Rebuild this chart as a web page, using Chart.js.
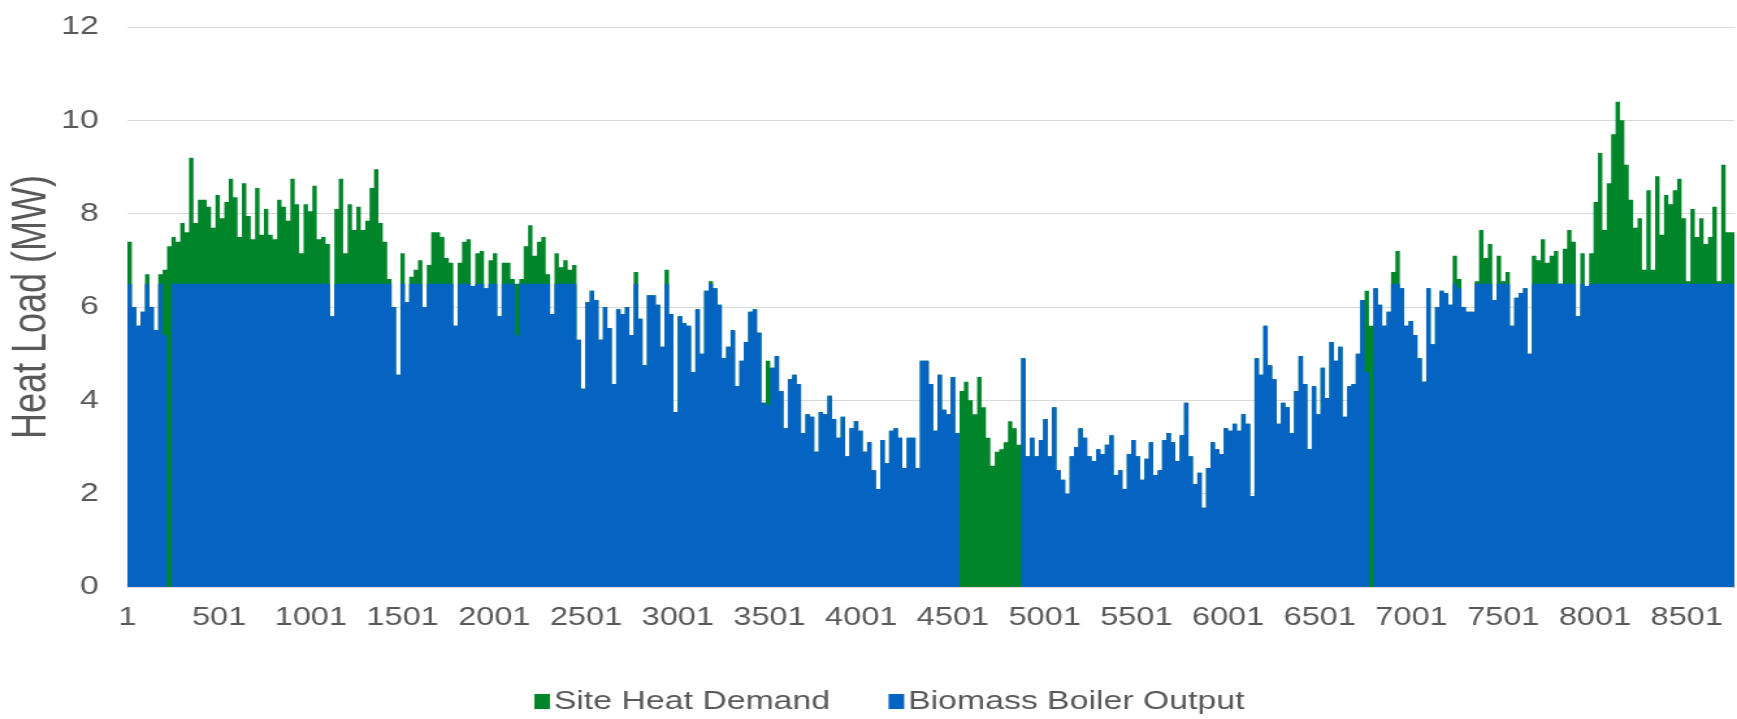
<!DOCTYPE html>
<html>
<head>
<meta charset="utf-8">
<title>Heat Load</title>
<script src="https://cdn.jsdelivr.net/npm/chart.js@4.4.0/dist/chart.umd.min.js"></script>
<style>
  html, body { margin: 0; padding: 0; background: #fff; overflow: hidden; }
  #heat-chart { display: block; }
</style>
</head>
<body>
<!-- drawn narrower and stretched to 1737px, like the wide original -->
<canvas id="heat-chart" width="1336" height="719" style="width:1737px;height:719px"></canvas>
<script>
const seriesLabels = ["Site Heat Demand", "Biomass Boiler Output"];
const hoursPerStep = 24;
const xTickLabels = [1, 501, 1001, 1501, 2001, 2501, 3001, 3501, 4001, 4501, 5001, 5501, 6001, 6501, 7001, 7501, 8001, 8501];

// one value per 24 h (MW)
const siteHeatDemand = [
  7.3, 7.4, 6.0, 5.6, 5.9, 6.7, 6.0, 5.5, 6.7, 6.8,
  7.3, 7.5, 7.4, 7.8, 7.6, 9.2, 7.8, 8.3, 8.3, 8.15,
  7.7, 8.4, 7.9, 8.25, 8.75, 8.35, 7.5, 8.65, 7.95, 7.45,
  8.55, 7.55, 8.1, 7.55, 7.45, 8.3, 8.15, 7.85, 8.75, 8.2,
  7.15, 8.2, 8.05, 8.6, 7.45, 7.5, 7.35, 5.8, 8.1, 8.75,
  7.15, 8.2, 7.65, 8.15, 7.65, 7.85, 8.55, 8.95, 7.8, 7.4,
  6.6, 6.0, 4.55, 7.15, 6.1, 6.65, 6.8, 7.0, 6.0, 6.9,
  7.6, 7.6, 7.5, 7.05, 6.95, 5.6, 6.95, 7.4, 7.45, 6.45,
  7.15, 7.2, 6.4, 7.0, 7.15, 5.8, 6.95, 6.95, 6.6, 6.5,
  6.6, 7.3, 7.75, 7.1, 7.4, 7.5, 6.7, 5.85, 7.15, 6.85,
  7.0, 6.8, 6.9, 5.3, 4.25, 6.1, 6.35, 6.15, 5.3, 6.0,
  5.55, 4.35, 5.95, 5.85, 6.0, 5.4, 6.75, 5.75, 4.75, 6.25,
  6.25, 6.05, 5.15, 6.8, 5.85, 3.75, 5.8, 5.65, 5.6, 4.6,
  5.95, 5.0, 6.35, 6.55, 6.4, 6.05, 4.9, 5.15, 5.5, 4.3,
  4.85, 5.25, 5.9, 5.95, 5.45, 3.95, 4.85, 4.7, 4.95, 4.2,
  3.4, 4.45, 4.55, 4.35, 3.3, 3.7, 3.65, 2.9, 3.75, 3.7,
  4.1, 3.6, 3.2, 3.65, 2.8, 3.4, 3.55, 3.35, 2.9, 3.1,
  2.5, 2.1, 3.15, 2.65, 3.35, 3.4, 3.2, 2.55, 3.2, 3.2,
  2.55, 4.85, 4.85, 4.35, 3.35, 4.55, 3.8, 3.7, 4.5, 3.3,
  4.2, 4.4, 4.0, 3.7, 4.5, 3.85, 3.2, 2.6, 2.9, 2.95,
  3.1, 3.55, 3.4, 3.05, 4.9, 2.8, 3.2, 2.8, 3.15, 3.6,
  2.8, 3.85, 2.5, 2.3, 2.0, 2.8, 3.0, 3.4, 3.2, 2.8,
  2.7, 2.95, 2.85, 3.05, 3.25, 2.4, 2.5, 2.1, 2.85, 3.15,
  2.8, 2.3, 2.75, 3.1, 2.4, 2.5, 3.15, 3.3, 3.1, 2.7,
  3.25, 3.95, 2.8, 2.2, 2.45, 1.7, 2.55, 3.1, 2.95, 2.85,
  3.4, 3.35, 3.5, 3.35, 3.7, 3.5, 1.95, 4.9, 4.55, 5.6,
  4.75, 4.45, 3.5, 3.95, 3.85, 3.3, 4.2, 4.95, 4.35, 2.95,
  4.3, 3.7, 4.7, 4.05, 5.25, 4.85, 5.15, 3.65, 4.3, 4.35,
  5.0, 6.15, 6.35, 5.6, 6.4, 6.05, 5.6, 5.9, 6.75, 7.2,
  6.4, 5.6, 5.7, 5.4, 4.9, 4.4, 6.4, 5.2, 6.0, 6.35,
  6.3, 6.05, 7.1, 6.6, 6.0, 5.9, 5.9, 6.55, 7.65, 7.05,
  7.35, 6.15, 7.1, 6.55, 6.75, 5.6, 6.2, 6.3, 6.4, 5.0,
  7.1, 7.0, 7.45, 6.95, 7.1, 7.2, 6.5, 7.25, 7.65, 7.4,
  5.8, 7.15, 6.45, 7.15, 8.25, 9.3, 7.65, 8.65, 9.7, 10.4,
  10.0, 9.05, 8.3, 7.7, 7.9, 6.8, 8.5, 6.8, 8.8, 7.55,
  8.4, 8.2, 8.5, 8.75, 7.9, 6.55, 8.1, 7.5, 7.9, 7.35,
  7.5, 8.15, 6.55, 9.05, 7.6
];

const boilerOutput = [
  6.5, 6.5, 6.0, 5.6, 5.9, 6.5, 6.0, 5.5, 6.5, 5.4,
  0, 6.5, 6.5, 6.5, 6.5, 6.5, 6.5, 6.5, 6.5, 6.5,
  6.5, 6.5, 6.5, 6.5, 6.5, 6.5, 6.5, 6.5, 6.5, 6.5,
  6.5, 6.5, 6.5, 6.5, 6.5, 6.5, 6.5, 6.5, 6.5, 6.5,
  6.5, 6.5, 6.5, 6.5, 6.5, 6.5, 6.5, 5.8, 6.5, 6.5,
  6.5, 6.5, 6.5, 6.5, 6.5, 6.5, 6.5, 6.5, 6.5, 6.5,
  6.5, 6.0, 4.55, 6.5, 6.1, 6.5, 6.5, 6.5, 6.0, 6.5,
  6.5, 6.5, 6.5, 6.5, 6.5, 5.6, 6.5, 6.5, 6.5, 6.45,
  6.5, 6.5, 6.4, 6.5, 6.5, 5.8, 6.5, 6.5, 6.5, 5.4,
  6.5, 6.5, 6.5, 6.5, 6.5, 6.5, 6.5, 5.85, 6.5, 6.5,
  6.5, 6.5, 6.5, 5.3, 4.25, 6.1, 6.35, 6.15, 5.3, 6.0,
  5.55, 4.35, 5.95, 5.85, 6.0, 5.4, 6.5, 5.75, 4.75, 6.25,
  6.25, 6.05, 5.15, 6.5, 5.85, 3.75, 5.8, 5.65, 5.6, 4.6,
  5.95, 5.0, 6.35, 6.5, 6.4, 6.05, 4.9, 5.15, 5.5, 4.3,
  4.85, 5.25, 5.9, 5.95, 5.45, 3.95, 3.9, 4.7, 4.95, 4.2,
  3.4, 4.45, 4.55, 4.35, 3.3, 3.7, 3.65, 2.9, 3.75, 3.7,
  4.1, 3.6, 3.2, 3.65, 2.8, 3.4, 3.55, 3.35, 2.9, 3.1,
  2.5, 2.1, 3.15, 2.65, 3.35, 3.4, 3.2, 2.55, 3.2, 3.2,
  2.55, 4.85, 4.85, 4.35, 3.35, 4.55, 3.8, 3.7, 4.5, 3.3,
  0, 0, 0, 0, 0, 0, 0, 0, 0, 0,
  0, 0, 0, 0, 4.9, 2.8, 3.2, 2.8, 3.15, 3.6,
  2.8, 3.85, 2.5, 2.3, 2.0, 2.8, 3.0, 3.4, 3.2, 2.8,
  2.7, 2.95, 2.85, 3.05, 3.25, 2.4, 2.5, 2.1, 2.85, 3.15,
  2.8, 2.3, 2.75, 3.1, 2.4, 2.5, 3.15, 3.3, 3.1, 2.7,
  3.25, 3.95, 2.8, 2.2, 2.45, 1.7, 2.55, 3.1, 2.95, 2.85,
  3.4, 3.35, 3.5, 3.35, 3.7, 3.5, 1.95, 4.9, 4.55, 5.6,
  4.75, 4.45, 3.5, 3.95, 3.85, 3.3, 4.2, 4.95, 4.35, 2.95,
  4.3, 3.7, 4.7, 4.05, 5.25, 4.85, 5.15, 3.65, 4.3, 4.35,
  5.0, 6.15, 4.6, 0, 6.4, 6.05, 5.6, 5.9, 6.5, 6.5,
  6.4, 5.6, 5.7, 5.4, 4.9, 4.4, 6.4, 5.2, 6.0, 6.35,
  6.3, 6.05, 6.5, 6.4, 6.0, 5.9, 5.9, 6.5, 6.5, 6.5,
  6.5, 6.15, 6.5, 6.5, 6.5, 5.6, 6.2, 6.3, 6.4, 5.0,
  6.5, 6.5, 6.5, 6.5, 6.5, 6.5, 6.5, 6.5, 6.5, 6.5,
  5.8, 6.5, 6.45, 6.5, 6.5, 6.5, 6.5, 6.5, 6.5, 6.5,
  6.5, 6.5, 6.5, 6.5, 6.5, 6.5, 6.5, 6.5, 6.5, 6.5,
  6.5, 6.5, 6.5, 6.5, 6.5, 6.5, 6.5, 6.5, 6.5, 6.5,
  6.5, 6.5, 6.5, 6.5, 6.5
];

const greenColor = "#00852b";
const blueColor = "#0563c1";
const textColor = "#595959";
const fontFamily = "'Liberation Sans', Arial, sans-serif";

Chart.defaults.font.family = fontFamily;
Chart.defaults.color = textColor;

// each value holds for one step; last point closes the final step
const toSteps = (values) => {
  const pts = values.map((v, i) => ({ x: 1 + i * hoursPerStep, y: v }));
  pts.push({ x: 1 + values.length * hoursPerStep, y: values[values.length - 1] });
  return pts;
};

// legend under the plot, boxes + labels
const bottomLegend = {
  id: "bottomLegend",
  afterDraw(chart) {
    const ctx = chart.ctx;
    ctx.save();
    ctx.font = "26px " + fontFamily;
    ctx.textBaseline = "middle";
    let x = 411;
    chart.data.datasets.forEach((ds) => {
      ctx.fillStyle = ds.backgroundColor;
      ctx.fillRect(x, 694, 12, 15);
      ctx.fillStyle = textColor;
      ctx.fillText(ds.label, x + 15, 702);
      x += 15 + ctx.measureText(ds.label).width + 45;
    });
    ctx.restore();
  }
};

new Chart(document.getElementById("heat-chart"), {
  type: "line",
  data: {
    datasets: [
      {
        label: seriesLabels[0],
        data: toSteps(siteHeatDemand),
        backgroundColor: greenColor,
        borderWidth: 0,
        pointRadius: 0,
        stepped: "after",
        fill: "origin",
        order: 2,
      },
      {
        label: seriesLabels[1],
        data: toSteps(boilerOutput),
        backgroundColor: blueColor,
        borderWidth: 0,
        pointRadius: 0,
        stepped: "after",
        fill: "origin",
        order: 1,
      },
    ],
  },
  options: {
    responsive: false,
    animation: false,
    devicePixelRatio: 1,
    layout: { padding: { top: 27, right: 2, bottom: 72, left: 0 } },
    plugins: {
      legend: { display: false },
      tooltip: { enabled: false },
    },
    scales: {
      x: {
        type: "linear",
        min: 1,
        max: 1 + siteHeatDemand.length * hoursPerStep,
        grid: { display: false },
        border: { display: true, color: "#d9d9d9" },
        afterBuildTicks: (scale) => {
          scale.ticks = xTickLabels.map((v) => ({ value: v }));
        },
        afterFit: (scale) => {
          scale.height = 60;
          scale.paddingLeft = 0;
          scale.paddingRight = 0;
        },
        ticks: {
          autoSkip: false,
          maxRotation: 0,
          padding: 8,
          font: { size: 25 },
          callback: (v) => String(v),
        },
      },
      y: {
        min: 0,
        max: 12,
        grid: { color: "#d9d9d9", drawTicks: false },
        border: { display: false },
        afterFit: (scale) => {
          scale.width = 98;
          scale.paddingTop = 0;
          scale.paddingBottom = 0;
        },
        ticks: { stepSize: 2, padding: 22, font: { size: 26 } },
        title: {
          display: true,
          text: "Heat Load (MW)",
          font: { size: 36 },
          padding: { top: 3, bottom: 0 },
        },
      },
    },
  },
  plugins: [bottomLegend],
});
</script>
</body>
</html>
